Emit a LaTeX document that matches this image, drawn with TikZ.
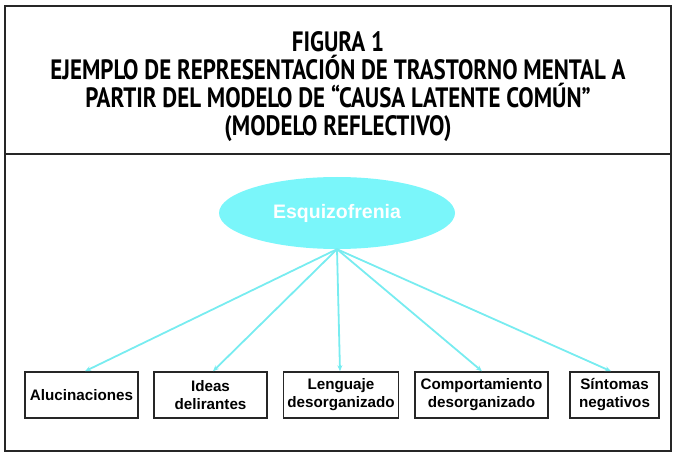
\documentclass[tikz,border=0pt]{standalone}
\usepackage{fontspec}
\setmainfont{Liberation Sans}
\newfontfamily\titlefont[FakeStretch=0.82]{PT Sans}
\usetikzlibrary{arrows.meta,shapes.geometric}
\definecolor{cyanfill}{RGB}{122,246,250}
\definecolor{cyanline}{RGB}{120,236,240}
\tikzset{
  x=1pt,y=-1pt,
  frame/.style={draw=black!85,line width=2.8pt},
  sympt/.style={draw=black!85,line width=1.5pt,minimum height=46pt,inner sep=2pt,align=center,font=\fontsize{15.2}{18}\selectfont\bfseries},
  link/.style={draw=cyanline,line width=1.8pt,-{Stealth[length=6pt,width=5pt]}},
  ttl/.style={align=center,font=\titlefont\bfseries\fontsize{28}{28}\selectfont}
}
\begin{document}
\begin{tikzpicture}
\useasboundingbox (0,0) rectangle (677,457);
\draw[frame] (5,6) rectangle (671,451);
\draw[frame] (5,154) -- (671,154);
\node[ttl] (title) at (338,87) {FIGURA 1\\EJEMPLO DE REPRESENTACIÓN DE TRASTORNO MENTAL A\\PARTIR DEL MODELO DE “CAUSA LATENTE COMÚN”\\(MODELO REFLECTIVO)};
\node[ellipse,fill=cyanfill,minimum width=236pt,minimum height=72pt,inner sep=0pt,text=white,font=\fontsize{19.5}{22}\selectfont\bfseries] (esq) at (337,213) {Esquizofrenia};
\node[sympt,minimum width=113pt] (b1) at (81.5,395) {Alucinaciones};
\node[sympt,minimum width=113pt] (b2) at (210.5,395) {Ideas\\delirantes};
\node[sympt,minimum width=115pt] (b3) at (341,395) {Lenguaje\\desorganizado};
\node[sympt,minimum width=133pt] (b4) at (481.5,395) {Comportamiento\\desorganizado};
\node[sympt,minimum width=89pt] (b5) at (614.5,395) {Síntomas\\negativos};
\coordinate (apex) at (esq.south);
\draw[link] (apex) -- (b1.north -| 85,0);
\draw[link] (apex) -- (b2.north -| 213,0);
\draw[link] (apex) -- (b3.north -| 340,0);
\draw[link] (apex) -- (b4.north -| 482,0);
\draw[link] (apex) -- (b5.north -| 611,0);
\end{tikzpicture}
\end{document}
